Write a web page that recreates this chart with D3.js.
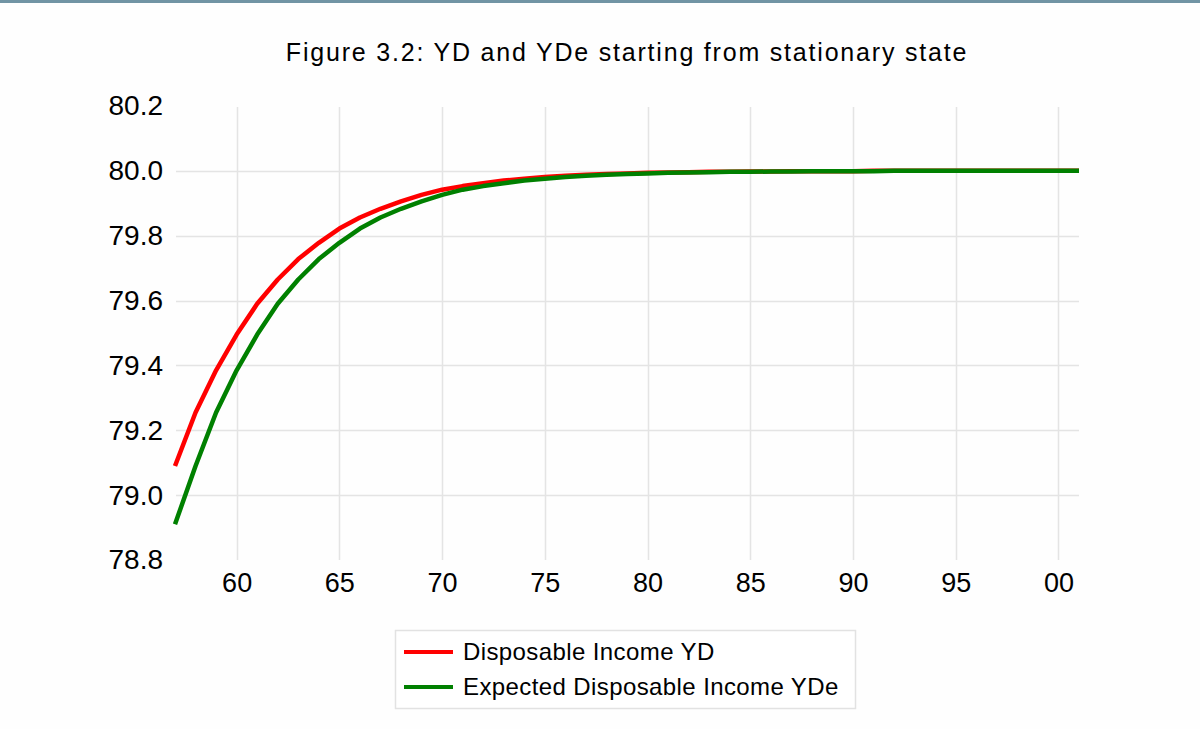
<!DOCTYPE html>
<html>
<head>
<meta charset="utf-8">
<script src="https://cdn.jsdelivr.net/npm/d3@7"></script>
<style>
  html, body { margin: 0; padding: 0; background: #fefefe; }
  svg { display: block; }
  text { font-family: "Liberation Sans", Arial, sans-serif; fill: #000; }
</style>
</head>
<body>
<svg id="chart" width="1200" height="729"></svg>
<script>
// ---- data ----
const years = [1957,1958,1959,1960,1961,1962,1963,1964,1965,1966,1967,1968,1969,1970,
  1971,1972,1973,1974,1975,1976,1977,1978,1979,1980,1981,1982,1983,1984,1985,1986,
  1987,1988,1989,1990,1991,1992,1993,1994,1995,1996,1997,1998,1999,2000,2001];
const yd = [79.090,79.255,79.385,79.495,79.590,79.665,79.728,79.778,79.822,79.856,
  79.883,79.906,79.926,79.942,79.953,79.962,79.970,79.976,79.981,79.985,79.988,
  79.990,79.992,79.994,79.995,79.996,79.997,79.997,79.998,79.998,79.999,79.999,
  79.999,79.999,80.000,80.000,80.000,80.000,80.000,80.000,80.000,80.000,80.000,
  80.000,80.000];
const yde = [78.910,79.090,79.255,79.385,79.495,79.590,79.665,79.728,79.778,79.822,
  79.856,79.883,79.906,79.926,79.942,79.953,79.962,79.970,79.976,79.981,79.985,
  79.988,79.990,79.992,79.994,79.995,79.996,79.997,79.997,79.998,79.998,79.999,
  79.999,79.999,79.999,80.000,80.000,80.000,80.000,80.000,80.000,80.000,80.000,
  80.000,80.000];
const xTicks = [1960,1965,1970,1975,1980,1985,1990,1995,2000];
const yTicks = [78.8,79.0,79.2,79.4,79.6,79.8,80.0,80.2];
const seriesNames = ["Disposable Income YD", "Expected Disposable Income YDe"];
const seriesColors = ["#ff0000", "#008000"];
const title = "Figure 3.2: YD and YDe starting from stationary state";

// ---- layout ----
const svg = d3.select("#chart");
const pLeft = 175, pRight = 1079, pTop = 106, pBottom = 560;

// top window strip
svg.append("rect").attr("x", 0).attr("y", 0).attr("width", 1200).attr("height", 3).attr("fill", "#7194a4");

const x = d3.scaleLinear().domain([1957, 2001]).range([pLeft, pRight]);
const y = d3.scaleLinear().domain([78.8, 80.2]).range([pBottom, pTop]);

// gridlines
const grid = svg.append("g");
grid.selectAll("line.h").data(yTicks.filter(v => v > 78.85 && v < 80.15)).enter().append("line")
  .attr("x1", pLeft + 1).attr("x2", pRight)
  .attr("y1", d => Math.round(y(d)) + 0.5).attr("y2", d => Math.round(y(d)) + 0.5)
  .attr("stroke", "#e4e4e4").attr("stroke-width", 1.5);
grid.selectAll("line.v").data(xTicks).enter().append("line")
  .attr("x1", d => Math.round(x(d)) + 0.5).attr("x2", d => Math.round(x(d)) + 0.5)
  .attr("y1", pTop + 1).attr("y2", pBottom)
  .attr("stroke", "#e4e4e4").attr("stroke-width", 1.5);

// axes (labels only)
const yAxis = d3.axisLeft(y).tickValues(yTicks).tickSize(0).tickPadding(12)
  .tickFormat(d3.format(".1f"));
const gy = svg.append("g").attr("transform", `translate(${pLeft},0)`).call(yAxis);
gy.select(".domain").remove();
gy.selectAll("text").style("font-size", "28px").style("font-family", "'Liberation Sans', Arial, sans-serif").attr("fill", "#000");

const xAxis = d3.axisBottom(x).tickValues(xTicks).tickSize(0).tickPadding(13)
  .tickFormat(d => String(d % 100).padStart(2, "0"));
const gx = svg.append("g").attr("transform", `translate(0,${pBottom})`).call(xAxis);
gx.select(".domain").remove();
gx.selectAll("text").style("font-size", "27px").style("font-family", "'Liberation Sans', Arial, sans-serif").attr("fill", "#000");

// lines
const line = d3.line().x(d => x(d[0])).y(d => y(d[1]));
[yd, yde].forEach((vals, i) => {
  svg.append("path")
    .datum(years.map((yr, j) => [yr, vals[j]]))
    .attr("d", line)
    .attr("fill", "none")
    .attr("stroke", seriesColors[i])
    .attr("stroke-width", 4.5)
    .attr("stroke-linejoin", "round");
});

// title
svg.append("text").attr("x", 627).attr("y", 61).attr("text-anchor", "middle")
  .style("font-size", "25px").style("letter-spacing", "1.8px").text(title);

// legend
const lg = svg.append("g");
lg.append("rect").attr("x", 395.5).attr("y", 630.5).attr("width", 460).attr("height", 78)
  .attr("fill", "#fff").attr("stroke", "#e2e2e2").attr("stroke-width", 1.5);
const rows = [652, 687];
seriesNames.forEach((name, i) => {
  lg.append("line").attr("x1", 404).attr("x2", 453).attr("y1", rows[i]).attr("y2", rows[i])
    .attr("stroke", seriesColors[i]).attr("stroke-width", 4);
  lg.append("text").attr("x", 463).attr("y", rows[i] + 7.5)
    .style("font-size", "24px").style("letter-spacing", "0.4px").text(name);
});
</script>
</body>
</html>
